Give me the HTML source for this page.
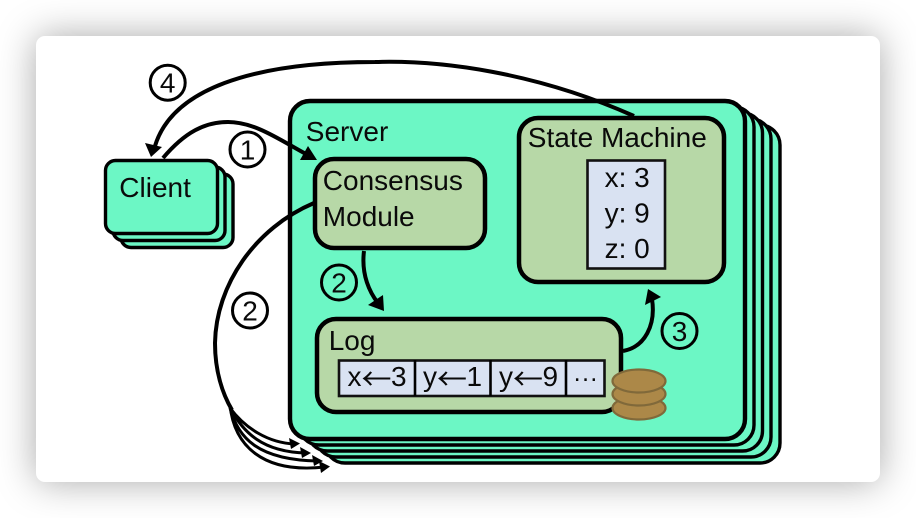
<!DOCTYPE html>
<html>
<head>
<meta charset="utf-8">
<style>
html,body{margin:0;padding:0;width:916px;height:518px;overflow:hidden;background:#fff;}
#card{position:absolute;left:36px;top:36px;width:844px;height:446px;background:#fff;border-radius:9px;box-shadow:0 0 38px rgba(0,0,0,.34);}
svg{position:absolute;left:0;top:0;}
text{font-family:"Liberation Sans",sans-serif;font-size:28px;fill:#0a0a0a;}
text.ar{font-family:"Noto Sans CJK JP",sans-serif;font-size:30px;}
.layer{fill:#6cf7c5;stroke:#000;stroke-width:3.4;}
.front{stroke-width:4.4;}
.g{fill:#b7d8a7;stroke:#000;stroke-width:4.5;}
.b{fill:#d9e2f2;stroke:#111;stroke-width:2.6;}
.c{fill:#6cf7c5;stroke:#000;stroke-width:3.4;}
.n{fill:#fff;stroke:#000;stroke-width:3;}
.a{fill:none;stroke:#000;stroke-width:4;}
.t{fill:none;stroke:#000;stroke-width:2.6;}
.coin{fill:#ac8848;stroke:#80693a;stroke-width:2.2;}
</style>
</head>
<body>
<div id="card"></div>
<svg width="916" height="518" viewBox="0 0 916 518" xmlns="http://www.w3.org/2000/svg">
  <!-- Server stack -->
  <rect class="layer" x="325" y="125" width="455" height="338" rx="20"/>
  <rect class="layer" x="316" y="119" width="455" height="338" rx="20"/>
  <rect class="layer" x="307.5" y="113" width="455" height="338" rx="20"/>
  <rect class="layer" x="299" y="107" width="455" height="338" rx="20"/>
  <rect class="layer front" x="290" y="101" width="455" height="338" rx="20"/>

  <!-- Client stack -->
  <rect class="c" x="121" y="174" width="112" height="73.5" rx="10"/>
  <rect class="c" x="113" y="167" width="112" height="73.5" rx="10"/>
  <rect class="c" x="105.5" y="160.5" width="112" height="73" rx="10"/>
  <text x="119.3" y="197">Client</text>

  <text x="305.8" y="141">Server</text>

  <!-- Consensus -->
  <rect class="g" x="315" y="159" width="170" height="89" rx="19"/>
  <text x="322.8" y="190">Consensus</text>
  <text x="322.8" y="226">Module</text>

  <!-- State machine -->
  <rect class="g" x="519" y="118" width="205" height="164" rx="19"/>
  <text x="527.8" y="147">State Machine</text>
  <rect class="b" x="587.5" y="160.5" width="77.5" height="108"/>
  <text x="604.6" y="187">x: 3</text>
  <text x="604.6" y="222.5">y: 9</text>
  <text x="604.6" y="258">z: 0</text>

  <!-- Log -->
  <rect class="g" x="317" y="319" width="304" height="93" rx="19"/>
  <text x="328.7" y="350">Log</text>
  <rect class="b" x="339" y="360.5" width="265.5" height="35.5"/>
  <line class="t" x1="415" y1="360" x2="415" y2="396"/>
  <line class="t" x1="490.5" y1="360" x2="490.5" y2="396"/>
  <line class="t" x1="566" y1="360" x2="566" y2="396"/>
  <text x="347.5" y="386">x</text><text class="ar" x="361.5" y="390">←</text><text x="391" y="386">3</text>
  <text x="423" y="386">y</text><text class="ar" x="437" y="390">←</text><text x="466.5" y="386">1</text>
  <text x="499" y="386">y</text><text class="ar" x="513" y="390">←</text><text x="542.5" y="386">9</text>
  <text x="573" y="386.5" style="font-size:25px">···</text>

  <!-- Coins -->
  <ellipse class="coin" cx="639" cy="408" rx="26.5" ry="11.5"/>
  <ellipse class="coin" cx="639" cy="394" rx="26.5" ry="11.5"/>
  <ellipse class="coin" cx="639" cy="381" rx="26.5" ry="11.5"/>

  <!-- Arrow 4 -->
  <path class="a" d="M634,116 C535,72 440,60 375,62 C250,62 172,90 155,146"/>
  <polygon points="151,157 145,143 162,147"/>

  <!-- Arrow 1 -->
  <path class="a" d="M163,158 C185,132 205,122 228,122 C255,122 280,140 306,154"/>
  <polygon points="317,160 300,160 308,146"/>

  <!-- Arrow 2 short -->
  <path class="a" d="M364,251 C361,275 370,293 378,303"/>
  <polygon points="384,311 368,305 383,295"/>

  <!-- Arrow 3 -->
  <path class="a" d="M623,351 C645,347 656,325 652,299"/>
  <polygon points="648,289 661,297 645,305"/>

  <!-- Arrow 2 long and fan out -->
  <path class="a" d="M314,203 C255,228 216,285 215,343 C215,370 222,393 232,410"/>
  <g style="fill:none;stroke:#000;stroke-width:3">
    <path d="M230,408 C245,428 268,443 295,444"/>
    <path d="M230,408 C243,432 262,452 306,453"/>
    <path d="M230,408 C238,438 258,460 318,461"/>
    <path d="M230,405 C234,445 262,474 325,467"/>
  </g>
  <polygon points="300,443.5 289,438 291,449"/>
  <polygon points="311,453 300,447 302,458"/>
  <polygon points="323,461 312,455 314,466"/>
  <polygon points="330,466.5 319,461 321,473"/>

  <!-- Numbers -->
  <circle class="n" cx="167.7" cy="82.7" r="17.5"/>
  <text x="167.7" y="92.7" text-anchor="middle">4</text>
  <circle class="n" cx="247.5" cy="149.5" r="17.5"/>
  <text x="247.5" y="159.5" text-anchor="middle">1</text>
  <circle class="n" style="fill:#6cf7c5" cx="339" cy="282.5" r="17.5"/>
  <text x="339" y="292.5" text-anchor="middle">2</text>
  <circle class="n" cx="250" cy="310.5" r="17.5"/>
  <text x="250" y="320.5" text-anchor="middle">2</text>
  <circle class="n" style="fill:#6cf7c5" cx="679.5" cy="331" r="17.5"/>
  <text x="679.5" y="341" text-anchor="middle">3</text>
</svg>
</body>
</html>
